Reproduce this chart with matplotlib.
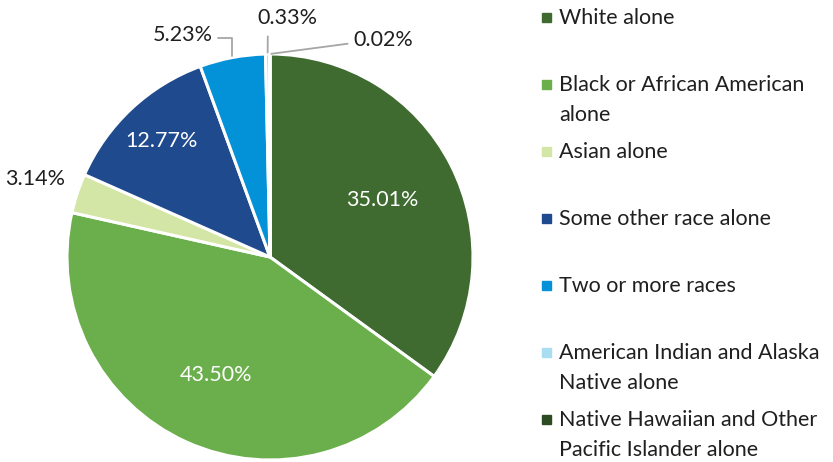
import matplotlib
matplotlib.use("Agg")
import matplotlib.pyplot as plt
from matplotlib.patches import Rectangle
import numpy as np

plt.rcParams['font.family'] = ['Lato', 'DejaVu Sans']

# data
categories = ['White alone',
              'Black or African American\nalone',
              'Asian alone',
              'Some other race alone',
              'Two or more races',
              'American Indian and Alaska\nNative alone',
              'Native Hawaiian and Other\nPacific Islander alone']
shares = [35.01, 43.50, 3.14, 12.77, 5.23, 0.33, 0.02]
labels = ['35.01%', '43.50%', '3.14%', '12.77%', '5.23%', '0.33%', '0.02%']
colors = ['#3F6B30', '#6AAF4B', '#D3E6A6', '#1F4A8E', '#0391D8', '#A9DDF0', '#2E4A22']

W, H = 833, 462
fig = plt.figure(figsize=(W / 100, H / 100), dpi=100)
R = 203
cx, cy = 270, 257
ax = fig.add_axes([(cx - R) / W, (H - cy - R) / H, 2 * R / W, 2 * R / H])
ax.axis('off')

wedges, _ = ax.pie(shares, colors=colors, startangle=90, counterclock=False,
                   radius=1, wedgeprops=dict(edgecolor='white', linewidth=2.2))
ax.set_xlim(-1, 1)
ax.set_ylim(-1, 1)

# mid angles of each slice
cum = np.cumsum([0] + shares)
mids = np.deg2rad(90 - 3.6 * (cum[:-1] + cum[1:]) / 2)

txt_size = 15.5
dark = '#1F1F1F'
# inside labels (white text)
inside = {0: 0.62, 1: 0.64, 3: 0.78}
for i, d in inside.items():
    ax.text(d * np.cos(mids[i]), d * np.sin(mids[i]), labels[i], color='white',
            fontsize=txt_size, ha='center', va='center')

# outside labels
ax.text(1.22 * np.cos(mids[2]), 1.22 * np.sin(mids[2]), labels[2], color=dark,
        fontsize=txt_size, ha='center', va='center')

line_col = '#A6A6A6'
def edge(i):
    return (np.cos(mids[i]), np.sin(mids[i]))

ax.annotate(labels[4], xy=edge(4), xytext=(-0.43, 1.094), ha='center', va='center',
            fontsize=txt_size, color=dark, annotation_clip=False,
            arrowprops=dict(arrowstyle='-', color=line_col, lw=1.3, relpos=(1.0, 0.35),
                            connectionstyle='angle,angleA=0,angleB=90,rad=0',
                            shrinkA=2, shrinkB=1))
ax.annotate(labels[5], xy=edge(5), xytext=(0.084, 1.177), ha='center', va='center',
            fontsize=txt_size, color=dark, annotation_clip=False,
            arrowprops=dict(arrowstyle='-', color=line_col, lw=1.3, relpos=(0.18, 0.0),
                            shrinkA=4, shrinkB=1))
ax.annotate(labels[6], xy=edge(6), xytext=(0.557, 1.069), ha='center', va='center',
            fontsize=txt_size, color=dark, annotation_clip=False,
            arrowprops=dict(arrowstyle='-', color=line_col, lw=1.3, relpos=(0.0, 0.35),
                            shrinkA=2, shrinkB=1))

# legend, drawn by hand to keep Excel-like fixed spacing
for i, (cat, col) in enumerate(zip(categories, colors)):
    y = 17 + 67 * i
    fig.patches.append(Rectangle((542 / W, (H - y - 4.5) / H), 9 / W, 9 / H,
                                 transform=fig.transFigure, color=col))
    fig.text(559 / W, (H - y + 9) / H, cat, fontsize=txt_size, color=dark,
             ha='left', va='top', linespacing=1.6)

fig.savefig('out.png', dpi=100)
